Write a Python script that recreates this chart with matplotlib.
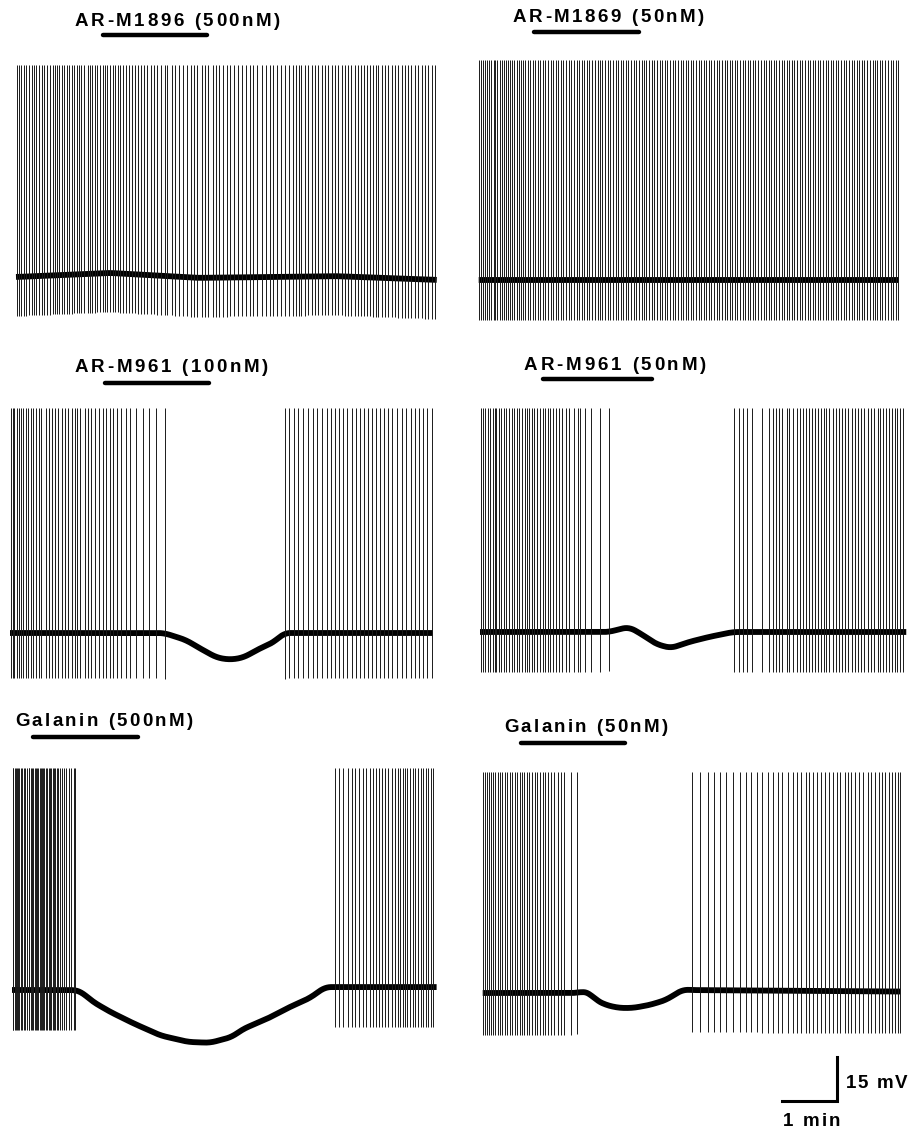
import numpy as np
import matplotlib
matplotlib.use("Agg")
import matplotlib.pyplot as plt
from matplotlib.font_manager import FontProperties

PX_MIN = 55.0          # pixels per minute on the page
PX_MV = 44.0 / 15.0    # pixels per mV on the page

labels = ["AR-M1896 (500nM)", "AR-M1869 (50nM)", "AR-M961 (100nM)",
          "AR-M961 (50nM)", "Galanin (500nM)", "Galanin (50nM)"]

# drug application (min from trace start)
drug_on = [1.58, 1.01, 1.73, 1.15, 0.38, 0.70]
drug_off = [3.47, 2.92, 3.62, 3.13, 2.29, 2.59]

durations = [7.65, 7.64, 7.69, 7.75, 7.72, 7.60]
peak_mv = [72.3, 75.0, 76.7, 76.4, 75.7, 75.3]
ahp_mv = [13.3, 13.6, 15.3, 13.6, 13.6, 14.3]

# membrane potential keypoints (min, mV relative to resting level)
base_t_a = [0.0, 1.7, 3.3, 5.8, 7.65]
base_v_a = [0.0, 1.4, -0.3, 0.3, -1.0]
base_t_b = [0.0, 7.64]
base_v_b = [0.0, 0.0]
base_t_c = [0.0, 2.8, 3.2, 3.45, 3.76, 4.0, 4.24, 4.55, 4.8, 4.98, 7.69]
base_v_c = [0.0, 0.0, -2.4, -5.2, -8.4, -9.1, -8.4, -5.2, -3.1, 0.0, 0.0]
base_t_d = [0.0, 2.35, 2.5, 2.71, 2.96, 3.2, 3.47, 3.8, 4.16, 4.6, 7.75]
base_v_d = [0.0, 0.0, 0.8, 1.7, -1.0, -4.1, -5.5, -3.4, -1.7, 0.0, 0.0]
base_t_e = [0.0, 1.15, 1.25, 1.47, 1.78, 2.2, 2.7, 3.2, 3.6, 4.0, 4.2,
            4.63, 5.05, 5.42, 5.69, 7.72]
base_v_e = [0.0, 0.0, -0.5, -4.0, -7.4, -11.3, -15.5, -17.7, -18.0, -16.0,
            -13.3, -9.9, -5.8, -2.7, 1.0, 1.0]
base_t_f = [0.0, 1.72, 1.82, 1.94, 2.06, 2.24, 2.48, 2.73, 3.03, 3.33, 3.64, 3.8, 7.6]
base_v_f = [0.0, 0.0, 0.6, 0.0, -2.4, -4.1, -5.1, -5.1, -4.1, -2.4, 1.2, 1.0, 0.5]

# spike times (min from trace start)
spikes_a = [0.01, 0.06, 0.10, 0.15, 0.19, 0.24, 0.30, 0.33, 0.37, 0.42, 0.47, 0.51,
            0.56, 0.62, 0.67, 0.71, 0.75, 0.79, 0.84, 0.88, 0.93, 0.97, 1.01, 1.06,
            1.11, 1.15, 1.19, 1.24, 1.30, 1.35, 1.39, 1.44, 1.48, 1.53, 1.58, 1.62,
            1.66, 1.71, 1.76, 1.80, 1.85, 1.90, 1.95, 2.00, 2.05, 2.11, 2.16, 2.22,
            2.28, 2.33, 2.39, 2.46, 2.51, 2.57, 2.64, 2.70, 2.75, 2.83, 2.90, 2.97,
            3.04, 3.11, 3.18, 3.24, 3.30, 3.38, 3.44, 3.50, 3.58, 3.64, 3.70, 3.77,
            3.83, 3.90, 3.97, 4.04, 4.11, 4.18, 4.25, 4.31, 4.39, 4.47, 4.54, 4.61,
            4.68, 4.74, 4.81, 4.89, 4.96, 5.03, 5.09, 5.15, 5.19, 5.25, 5.31, 5.38,
            5.44, 5.50, 5.56, 5.62, 5.68, 5.74, 5.80, 5.86, 5.92, 5.98, 6.04, 6.10,
            6.16, 6.21, 6.27, 6.32, 6.38, 6.43, 6.49, 6.54, 6.59, 6.65, 6.71, 6.77,
            6.83, 6.89, 6.95, 7.01, 7.07, 7.13, 7.19, 7.25, 7.31, 7.38, 7.44, 7.50,
            7.56, 7.62]
spikes_b = [0.00, 0.04, 0.08, 0.12, 0.16, 0.19, 0.23, 0.27, 0.30, 0.34, 0.38, 0.42,
            0.46, 0.49, 0.53, 0.57, 0.61, 0.65, 0.69, 0.73, 0.77, 0.81, 0.85, 0.89,
            0.93, 0.98, 1.03, 1.07, 1.12, 1.17, 1.21, 1.26, 1.31, 1.35, 1.40, 1.45,
            1.50, 1.54, 1.59, 1.64, 1.68, 1.73, 1.78, 1.83, 1.87, 1.92, 1.97, 2.01,
            2.06, 2.11, 2.16, 2.20, 2.25, 2.30, 2.35, 2.39, 2.44, 2.49, 2.53, 2.58,
            2.63, 2.68, 2.72, 2.77, 2.82, 2.86, 2.91, 2.96, 3.01, 3.05, 3.10, 3.15,
            3.19, 3.24, 3.29, 3.34, 3.38, 3.43, 3.48, 3.53, 3.57, 3.62, 3.67, 3.71,
            3.76, 3.81, 3.86, 3.90, 3.95, 4.00, 4.04, 4.09, 4.14, 4.19, 4.23, 4.28,
            4.33, 4.37, 4.42, 4.47, 4.52, 4.56, 4.61, 4.66, 4.70, 4.75, 4.80, 4.85,
            4.89, 4.94, 4.99, 5.03, 5.08, 5.13, 5.18, 5.22, 5.27, 5.32, 5.36, 5.41,
            5.46, 5.51, 5.55, 5.60, 5.65, 5.69, 5.74, 5.79, 5.84, 5.88, 5.93, 5.98,
            6.02, 6.07, 6.12, 6.17, 6.21, 6.26, 6.31, 6.35, 6.40, 6.45, 6.50, 6.54,
            6.59, 6.64, 6.68, 6.73, 6.78, 6.83, 6.87, 6.92, 6.97, 7.01, 7.06, 7.11,
            7.16, 7.20, 7.25, 7.30, 7.34, 7.39, 7.44, 7.49, 7.53, 7.58, 7.62]
spikes_c = [0.02, 0.05, 0.08, 0.12, 0.16, 0.20, 0.24, 0.29, 0.33, 0.38, 0.42, 0.47,
            0.52, 0.56, 0.65, 0.70, 0.76, 0.82, 0.87, 0.94, 1.00, 1.06, 1.12, 1.18,
            1.22, 1.28, 1.36, 1.42, 1.48, 1.55, 1.62, 1.69, 1.75, 1.81, 1.87, 1.94,
            2.01, 2.10, 2.19, 2.30, 2.42, 2.53, 2.65, 2.82,
            5.00, 5.08, 5.16, 5.24, 5.33, 5.42, 5.50, 5.59, 5.67, 5.76, 5.83, 5.91,
            5.99, 6.06, 6.13, 6.21, 6.29, 6.36, 6.44, 6.51, 6.58, 6.65, 6.73, 6.80,
            6.88, 6.95, 7.03, 7.12, 7.20, 7.29, 7.36, 7.44, 7.51, 7.59, 7.67]
spikes_d = [0.02, 0.06, 0.10, 0.14, 0.18, 0.23, 0.27, 0.30, 0.35, 0.39, 0.44, 0.48,
            0.53, 0.58, 0.62, 0.67, 0.71, 0.76, 0.81, 0.85, 0.90, 0.95, 0.99, 1.04,
            1.09, 1.14, 1.19, 1.24, 1.28, 1.33, 1.38, 1.44, 1.50, 1.56, 1.62, 1.71,
            1.79, 1.82, 1.91, 2.02, 2.18, 2.35,
            4.62, 4.70, 4.78, 4.85, 4.95, 5.13, 5.26, 5.33, 5.38, 5.43, 5.49, 5.58,
            5.62, 5.70, 5.76, 5.81, 5.87, 5.93, 5.99, 6.04, 6.10, 6.14, 6.20, 6.26,
            6.30, 6.35, 6.41, 6.47, 6.52, 6.58, 6.64, 6.70, 6.76, 6.81, 6.87, 6.93,
            6.99, 7.05, 7.11, 7.17, 7.23, 7.27, 7.32, 7.38, 7.44, 7.49, 7.54, 7.59,
            7.64, 7.70]
spikes_e = [0.01, 0.02, 0.05, 0.07, 0.09, 0.11, 0.13, 0.16, 0.18, 0.21, 0.24, 0.27,
            0.30, 0.31, 0.34, 0.36, 0.39, 0.41, 0.44, 0.46, 0.48, 0.50, 0.52, 0.55,
            0.57, 0.59, 0.62, 0.64, 0.67, 0.69, 0.71, 0.74, 0.76, 0.79, 0.81, 0.84,
            0.87, 0.91, 0.95, 0.99, 1.04, 1.08, 1.13, 1.15,
            5.87, 5.95, 6.02, 6.10, 6.18, 6.24, 6.31, 6.38, 6.44, 6.50, 6.56, 6.61,
            6.67, 6.73, 6.79, 6.84, 6.90, 6.96, 7.01, 7.05, 7.10, 7.15, 7.19, 7.24,
            7.29, 7.33, 7.38, 7.43, 7.48, 7.53, 7.57, 7.61, 7.66]
spikes_f = [0.00, 0.04, 0.07, 0.11, 0.15, 0.18, 0.23, 0.27, 0.31, 0.35, 0.40, 0.44,
            0.49, 0.53, 0.58, 0.62, 0.67, 0.71, 0.76, 0.80, 0.85, 0.90, 0.95, 0.99,
            1.04, 1.09, 1.14, 1.19, 1.24, 1.30, 1.36, 1.42, 1.48, 1.61, 1.72,
            3.80, 3.95, 4.10, 4.21, 4.31, 4.42, 4.55, 4.67, 4.78, 4.88, 4.98, 5.08,
            5.18, 5.27, 5.36, 5.45, 5.55, 5.64, 5.71, 5.79, 5.87, 5.94, 6.01, 6.08,
            6.15, 6.22, 6.29, 6.36, 6.44, 6.50, 6.58, 6.64, 6.70, 6.77, 6.84, 6.91,
            7.00, 7.06, 7.14, 7.20, 7.26, 7.32, 7.38, 7.44, 7.49, 7.55, 7.59]

base_t = [base_t_a, base_t_b, base_t_c, base_t_d, base_t_e, base_t_f]
base_v = [base_v_a, base_v_b, base_v_c, base_v_d, base_v_e, base_v_f]
spikes = [spikes_a, spikes_b, spikes_c, spikes_d, spikes_e, spikes_f]

# page layout in pixels: trace start x, resting level y
trace_x0 = [16, 478.7, 10, 480, 12, 482.7]
trace_y0 = [277, 280, 633, 632, 990, 993]
label_box = [(75, 280, 21), (513, 704, 17), (75, 268, 368),
             (524, 706, 365), (15, 193, 722), (504, 668, 728)]
bar_y = [35, 32, 383, 379, 737, 743]

W, H = 912, 1132
fig = plt.figure(figsize=(W / 100, H / 100), dpi=100)
fp = FontProperties(family="Liberation Sans", weight="bold", size=13.5)

ax_ov = fig.add_axes([0, 0, 1, 1])
ax_ov.set_xlim(0, W)
ax_ov.set_ylim(H, 0)
ax_ov.axis("off")


def spaced_text(x_left, x_right, y, s):
    r = fig.canvas.get_renderer()
    ref = r.get_text_width_height_descent("M", fp, ismath=False)[0]
    full = r.get_text_width_height_descent(s, fp, ismath=False)[0]
    track = (x_right - x_left - full) / (len(s) - 1)
    for i, ch in enumerate(s):
        off = 0 if i == 0 else r.get_text_width_height_descent(s[:i] + "M", fp, ismath=False)[0] - ref
        ax_ov.text(x_left + off + i * track, y, ch, fontproperties=fp,
                   va="center", ha="left", color="black")


def smooth(v, n):
    pad = np.concatenate([np.full(n, v[0]), v, np.full(n, v[-1])])
    out = np.convolve(pad, np.ones(n) / n, mode="same")
    return out[n:-n]


pad_l, pad_top, pad_bot = 6, 250, 75
for k in range(6):
    left = trace_x0[k] - pad_l
    width = pad_l + 8 * PX_MIN
    ax = fig.add_axes([left / W, 1 - (trace_y0[k] + pad_bot) / H, width / W, (pad_top + pad_bot) / H])
    ax.set_xlim(-pad_l / PX_MIN, 8)
    ax.set_ylim(-pad_bot / PX_MV, pad_top / PX_MV)
    ax.axis("off")

    t = np.linspace(0, durations[k], 1500)
    v = smooth(np.interp(t, base_t[k], base_v[k]), 45)
    ax.plot(t, v, color="black", lw=4.2, solid_capstyle="butt")

    st = np.array(spikes[k])
    sb = np.interp(st, t, v)
    ax.vlines(st, sb - ahp_mv[k], peak_mv[k], color="#1a1a1a", lw=0.7)

    # drug application bar
    yb = (trace_y0[k] - bar_y[k]) / PX_MV
    ax.plot([drug_on[k], drug_off[k]], [yb, yb], color="black", lw=3.2,
            solid_capstyle="round", clip_on=False)

    xl, xr, yl = label_box[k]
    spaced_text(xl, xr, yl, labels[k])

    if k == 5:
        # scale bar: 1 min, 15 mV
        sx = (836.7 - trace_x0[k]) / PX_MIN
        sy = (trace_y0[k] - 1100.5) / PX_MV
        ax.plot([sx - 1, sx, sx], [sy, sy, sy + 15], color="black", lw=2.2,
                solid_joinstyle="miter", clip_on=False)

spaced_text(846, 907, 1083, "15 mV")
spaced_text(783, 840, 1122, "1 min")

fig.savefig("out.png", dpi=100)
